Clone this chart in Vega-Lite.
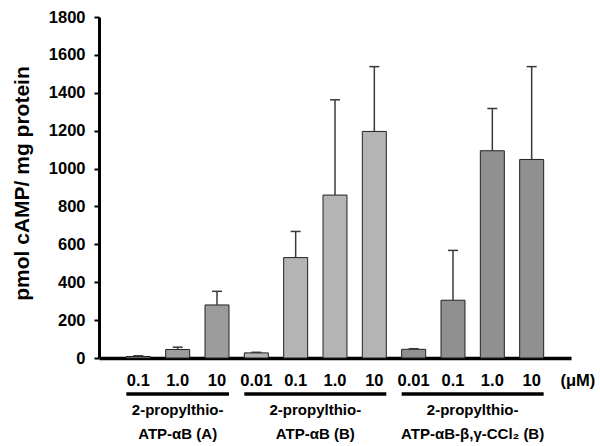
{
  "$schema": "https://vega.github.io/schema/vega-lite/v6.json",
  "width": 472,
  "height": 341,
  "autosize": {"type": "none"},
  "padding": {"left": 99, "top": 17, "right": 29, "bottom": 88},
  "background": "white",
  "config": {
    "view": {"stroke": null},
    "font": "Liberation Sans",
    "text": {"font": "Liberation Sans"},
    "axis": {"labelOverlap": false, "grid": false, "labelColor": "black", "titleColor": "black", "domainColor": "black", "tickColor": "black", "labelFontWeight": "bold", "titleFontWeight": "bold", "labelFont": "Liberation Sans", "titleFont": "Liberation Sans"},
    "axisY": {
      "labelOverlap": false,
      "labelFlush": false,
      "labelBound": false,
      "labelFontSize": 16.5,
      "labelPadding": 9,
      "tickSize": 5,
      "tickWidth": 2,
      "domainWidth": 3,
      "titleFontSize": 21,
      "titleAngle": -90,
      "titleAlign": "center",
      "titleBaseline": "middle",
      "titleX": -77,
      "titleY": 166
    },
    "axisX": {
      "labelOverlap": false,
      "labelFontSize": 16.5,
      "labelAngle": 0,
      "labelBaseline": "middle",
      "labelPadding": 22,
      "ticks": false,
      "domainWidth": 3.5,
      "titleFontSize": 16.5,
      "titleAngle": 0,
      "titleAlign": "left",
      "titleBaseline": "middle",
      "titleAnchor": "start",
      "titleX": 461,
      "titleY": 22
    }
  },
  "datasets": {
    "bars": [
      {"cat": "A 0.1", "group": "A", "value": 8, "upper": 12},
      {"cat": "A 1.0", "group": "A", "value": 45, "upper": 57},
      {"cat": "A 10", "group": "A", "value": 280, "upper": 352},
      {"cat": "B 0.01", "group": "B", "value": 27, "upper": 30},
      {"cat": "B 0.1", "group": "B", "value": 530, "upper": 668},
      {"cat": "B 1.0", "group": "B", "value": 860, "upper": 1363},
      {"cat": "B 10", "group": "B", "value": 1196, "upper": 1538},
      {"cat": "C 0.01", "group": "C", "value": 46, "upper": 49},
      {"cat": "C 0.1", "group": "C", "value": 305, "upper": 568},
      {"cat": "C 1.0", "group": "C", "value": 1094, "upper": 1317},
      {"cat": "C 10", "group": "C", "value": 1048, "upper": 1538}
    ],
    "groups": [
      {"group": "A", "start": "A 0.1", "end": "A 10", "anchor": "A 1.0", "label": "2-propylthio-\nATP-αB (A)"},
      {"group": "B", "start": "B 0.01", "end": "B 10", "anchor": "B 0.1", "label": "2-propylthio-\nATP-αB (B)"},
      {"group": "C", "start": "C 0.01", "end": "C 10", "anchor": "C 0.1", "label": "2-propylthio-\nATP-αB-β,γ-CCl₂ (B)"}
    ]
  },
  "layer": [
    {
      "data": {"name": "bars"},
      "mark": {"type": "bar", "stroke": "#222222", "strokeWidth": 1},
      "encoding": {
        "x": {
          "field": "cat",
          "type": "nominal",
          "sort": null,
          "scale": {
            "domain": ["A 0.1", "A 1.0", "A 10", "B 0.01", "B 0.1", "B 1.0", "B 10", "C 0.01", "C 0.1", "C 1.0", "C 10"],
            "paddingInner": 0.39,
            "paddingOuter": 0.695
          },
          "axis": {
            "title": "(μM)",
            "labelExpr": "split(datum.value, ' ')[1]"
          }
        },
        "y": {
          "field": "value",
          "type": "quantitative",
          "scale": {"domain": [0, 1800], "nice": false},
          "axis": {
            "title": "pmol cAMP/ mg protein",
            "values": [0, 200, 400, 600, 800, 1000, 1200, 1400, 1600, 1800],
            "format": "d",
            "labelOverlap": false,
            "labelBound": false
          }
        },
        "fill": {
          "field": "group",
          "type": "nominal",
          "scale": {"domain": ["A", "B", "C"], "range": ["#9c9c9c", "#b4b4b4", "#909090"]},
          "legend": null
        }
      }
    },
    {
      "data": {"name": "bars"},
      "mark": {"type": "rule", "color": "#3a3a3a", "strokeWidth": 1.5},
      "encoding": {
        "x": {"field": "cat", "type": "nominal"},
        "y": {"field": "value", "type": "quantitative", "axis": {"title": "pmol cAMP/ mg protein", "values": [0, 200, 400, 600, 800, 1000, 1200, 1400, 1600, 1800], "format": "d", "labelOverlap": false}},
        "y2": {"field": "upper"}
      }
    },
    {
      "data": {"name": "bars"},
      "mark": {"type": "tick", "orient": "horizontal", "size": 10, "thickness": 1.5, "color": "#3a3a3a", "opacity": 1},
      "encoding": {
        "x": {"field": "cat", "type": "nominal"},
        "y": {"field": "upper", "type": "quantitative", "axis": {"title": "pmol cAMP/ mg protein", "values": [0, 200, 400, 600, 800, 1000, 1200, 1400, 1600, 1800], "format": "d", "labelOverlap": false}}
      }
    },
    {
      "data": {"name": "groups"},
      "mark": {"type": "rule", "color": "black", "strokeWidth": 3.5},
      "encoding": {
        "x": {"field": "start", "type": "nominal", "bandPosition": 0},
        "x2": {"field": "end", "bandPosition": 1},
        "y": {"datum": -190, "axis": {"title": "pmol cAMP/ mg protein", "values": [0, 200, 400, 600, 800, 1000, 1200, 1400, 1600, 1800], "format": "d", "labelOverlap": false}}
      }
    },
    {
      "data": {"name": "groups"},
      "transform": [{"filter": "datum.group === 'A'"}],
      "mark": {"type": "text", "font": "Liberation Sans", "fontSize": 15, "fontWeight": "bold", "color": "black", "align": "center", "baseline": "alphabetic", "lineBreak": "\n", "lineHeight": 23.5},
      "encoding": {
        "x": {"field": "anchor", "type": "nominal"},
        "y": {"datum": -301, "axis": {"title": "pmol cAMP/ mg protein", "values": [0, 200, 400, 600, 800, 1000, 1200, 1400, 1600, 1800], "format": "d", "labelOverlap": false}},
        "text": {"field": "label"}
      }
    },
    {
      "data": {"name": "groups"},
      "transform": [{"filter": "datum.group !== 'A'"}],
      "mark": {"type": "text", "font": "Liberation Sans", "fontSize": 15, "fontWeight": "bold", "color": "black", "align": "center", "baseline": "alphabetic", "lineBreak": "\n", "lineHeight": 23.5, "dx": 19.67},
      "encoding": {
        "x": {"field": "anchor", "type": "nominal"},
        "y": {"datum": -301, "axis": {"title": "pmol cAMP/ mg protein", "values": [0, 200, 400, 600, 800, 1000, 1200, 1400, 1600, 1800], "format": "d", "labelOverlap": false}},
        "text": {"field": "label"}
      }
    }
  ]
}
